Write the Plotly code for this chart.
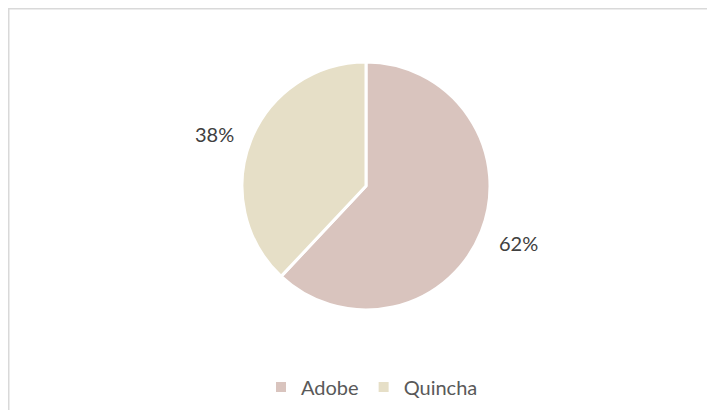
import math
import plotly.graph_objects as go

categories = ["Adobe", "Quincha"]
values = [62, 38]
colors = ["#D9C4BE", "#E6DFC7"]

# the page body has an 8px margin, so the figure is drawn 8px in from the window edge
OFF = 8
W, H = 715 - 2 * OFF, 418 - 2 * OFF
cx, cy, r = 366 - OFF, 186 - OFF, 124  # pie centre / radius in figure pixels

fig = go.Figure()
fig.add_trace(go.Pie(
    labels=categories,
    values=values,
    sort=False,
    direction="clockwise",
    rotation=0,
    marker=dict(colors=colors, line=dict(color="white", width=3)),
    textinfo="none",
    hoverinfo="label+percent",
    domain=dict(x=[(cx - r) / W, (cx + r) / W],
                y=[(H - cy - r) / H, (H - cy + r) / H]),
))

# percentage labels placed outside the slices, from the data
total = sum(values)
cum = 0
label_r = [163, 160]
dy = [-3, 7]
dx = [1, -3]
annotations = []
for i, v in enumerate(values):
    mid = (cum + v / 2) / total * 2 * math.pi
    cum += v
    lx = cx + label_r[i] * math.sin(mid) + dx[i]
    ly = cy - label_r[i] * math.cos(mid) + dy[i]
    annotations.append(dict(
        x=lx / W, y=1 - ly / H, xref="paper", yref="paper",
        text=f"{round(v / total * 100)}%", showarrow=False,
        font=dict(family="Lato, Open Sans, sans-serif", size=20, color="#404040"),
        xanchor="center", yanchor="middle",
    ))

fig.update_layout(
    width=W, height=H,
    margin=dict(l=0, r=0, t=0, b=0),
    paper_bgcolor="white",
    plot_bgcolor="white",
    annotations=annotations,
    showlegend=True,
    legend=dict(
        orientation="h", x=(372 - OFF) / W, xanchor="center",
        y=1 - (387 - OFF) / H, yanchor="middle",
        font=dict(family="Lato, Open Sans, sans-serif", size=20, color="#595959"),
        itemsizing="constant", traceorder="normal",
    ),
    shapes=[dict(
        type="rect", xref="paper", yref="paper",
        x0=0.75 / W, x1=1.05, y0=-0.05, y1=1 - 0.75 / H,
        line=dict(color="#D9D9D9", width=1.5), fillcolor="rgba(0,0,0,0)",
        layer="below",
    )],
)

fig.write_html("out.html")
